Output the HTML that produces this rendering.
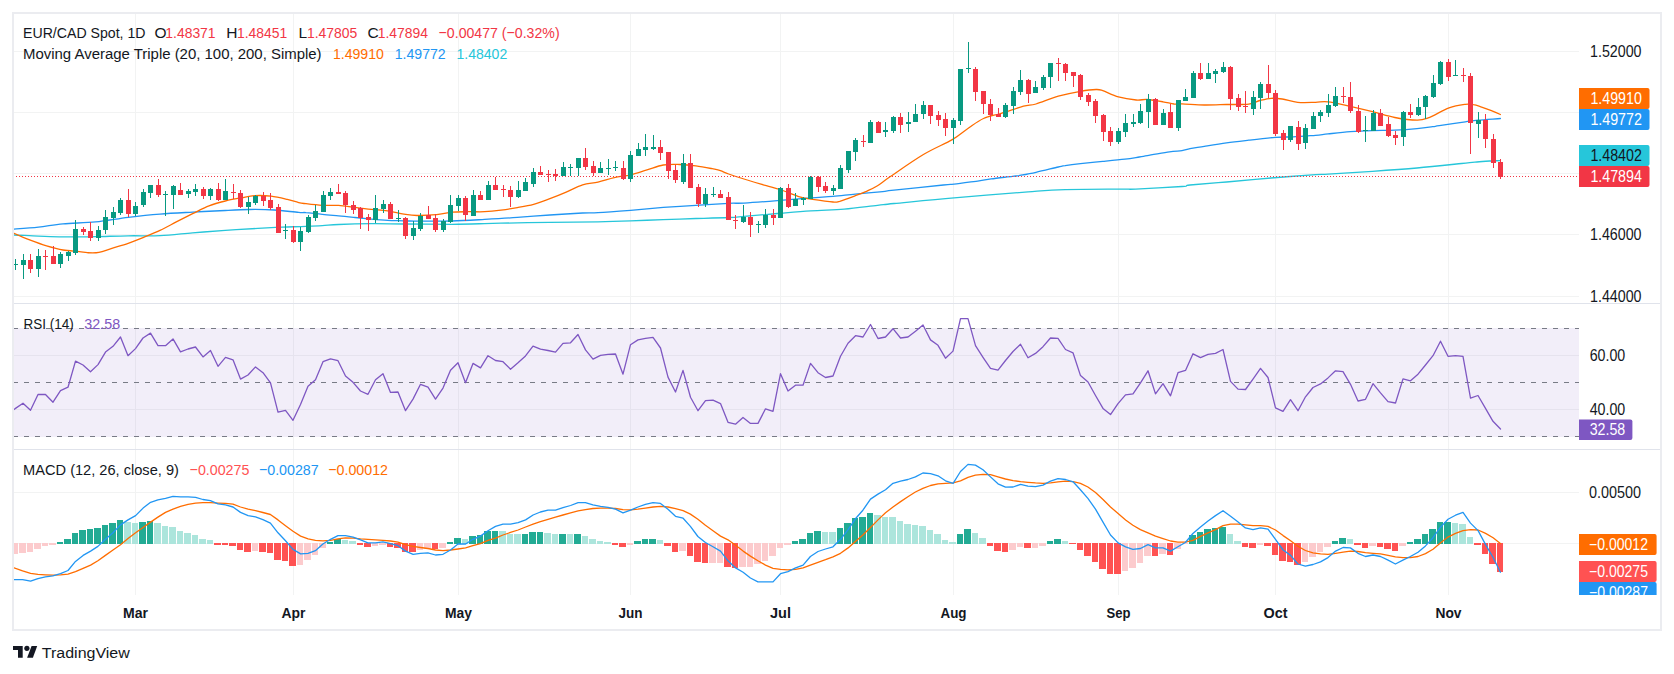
<!DOCTYPE html><html><head><meta charset="utf-8"><style>html,body{margin:0;padding:0;background:#fff;overflow:hidden}svg{display:block}text{font-family:'Liberation Sans', sans-serif}</style></head><body>
<svg width="1674" height="674" viewBox="0 0 1674 674">
<rect width="1674" height="674" fill="#fff"/>
<rect x="12" y="12" width="1650" height="619" fill="#EBECF0"/>
<rect x="14" y="14" width="1646" height="615" fill="#fff"/>
<rect x="14" y="303" width="1646" height="1" fill="#E0E3EB"/>
<rect x="14" y="449" width="1646" height="1" fill="#E0E3EB"/>
<rect x="14" y="51" width="1565" height="1" fill="#F2F3F3"/>
<rect x="14" y="112" width="1565" height="1" fill="#F2F3F3"/>
<rect x="14" y="173" width="1565" height="1" fill="#F2F3F3"/>
<rect x="14" y="234" width="1565" height="1" fill="#F2F3F3"/>
<rect x="14" y="296" width="1565" height="1" fill="#F2F3F3"/>
<rect x="14" y="355" width="1565" height="1" fill="#F2F3F3"/>
<rect x="14" y="409" width="1565" height="1" fill="#F2F3F3"/>
<rect x="14" y="492" width="1565" height="1" fill="#F2F3F3"/>
<rect x="14" y="543" width="1565" height="1" fill="#F2F3F3"/>
<rect x="135" y="14" width="1" height="289" fill="#F2F3F3"/>
<rect x="135" y="304" width="1" height="145" fill="#F2F3F3"/>
<rect x="135" y="450" width="1" height="145" fill="#F2F3F3"/>
<rect x="293" y="14" width="1" height="289" fill="#F2F3F3"/>
<rect x="293" y="304" width="1" height="145" fill="#F2F3F3"/>
<rect x="293" y="450" width="1" height="145" fill="#F2F3F3"/>
<rect x="458" y="14" width="1" height="289" fill="#F2F3F3"/>
<rect x="458" y="304" width="1" height="145" fill="#F2F3F3"/>
<rect x="458" y="450" width="1" height="145" fill="#F2F3F3"/>
<rect x="630" y="14" width="1" height="289" fill="#F2F3F3"/>
<rect x="630" y="304" width="1" height="145" fill="#F2F3F3"/>
<rect x="630" y="450" width="1" height="145" fill="#F2F3F3"/>
<rect x="780" y="14" width="1" height="289" fill="#F2F3F3"/>
<rect x="780" y="304" width="1" height="145" fill="#F2F3F3"/>
<rect x="780" y="450" width="1" height="145" fill="#F2F3F3"/>
<rect x="953" y="14" width="1" height="289" fill="#F2F3F3"/>
<rect x="953" y="304" width="1" height="145" fill="#F2F3F3"/>
<rect x="953" y="450" width="1" height="145" fill="#F2F3F3"/>
<rect x="1118" y="14" width="1" height="289" fill="#F2F3F3"/>
<rect x="1118" y="304" width="1" height="145" fill="#F2F3F3"/>
<rect x="1118" y="450" width="1" height="145" fill="#F2F3F3"/>
<rect x="1275" y="14" width="1" height="289" fill="#F2F3F3"/>
<rect x="1275" y="304" width="1" height="145" fill="#F2F3F3"/>
<rect x="1275" y="450" width="1" height="145" fill="#F2F3F3"/>
<rect x="1448" y="14" width="1" height="289" fill="#F2F3F3"/>
<rect x="1448" y="304" width="1" height="145" fill="#F2F3F3"/>
<rect x="1448" y="450" width="1" height="145" fill="#F2F3F3"/>
<svg x="14" y="14" width="1565" height="289" viewBox="14 14 1565 289" overflow="hidden">
<path d="M14.0,235.0 C18.1,235.1 30.3,235.8 38.5,236.1 C46.6,236.4 53.4,236.8 63.0,236.9 C72.5,237.0 84.7,236.8 95.6,236.6 C106.5,236.4 117.5,235.9 128.2,235.8 C139.0,235.6 149.3,236.1 160.0,235.6 C170.7,235.1 181.8,233.7 192.6,232.8 C203.5,232.0 214.4,231.1 225.3,230.4 C236.2,229.7 248.4,229.0 257.9,228.4 C267.4,227.9 274.4,227.5 282.4,227.1 C290.4,226.8 299.3,226.7 306.0,226.4 C312.7,226.2 316.9,225.9 322.3,225.6 C327.8,225.3 330.5,224.8 338.6,224.5 C346.8,224.1 360.4,223.7 371.3,223.7 C382.2,223.6 390.5,223.9 403.9,224.0 C417.4,224.1 438.5,224.3 452.0,224.3 C465.5,224.2 473.8,223.9 484.6,223.6 C495.5,223.4 506.4,223.0 517.3,222.8 C528.2,222.6 536.5,222.5 549.9,222.3 C563.4,222.1 584.5,222.0 598.0,221.8 C611.5,221.5 619.8,221.2 630.6,220.8 C641.5,220.5 652.4,220.0 663.3,219.7 C674.2,219.3 685.0,218.9 695.9,218.5 C706.8,218.2 720.6,217.9 728.6,217.5 C736.6,217.2 735.9,217.1 744.0,216.4 C752.1,215.7 766.3,214.5 777.4,213.5 C788.5,212.6 799.6,211.6 810.8,210.9 C821.9,210.1 833.0,210.0 844.2,209.1 C855.3,208.1 869.2,206.2 877.5,205.3 C885.9,204.4 881.3,204.8 894.0,203.5 C906.8,202.3 931.7,199.7 954.1,197.8 C976.4,195.8 1009.6,193.2 1028.1,191.9 C1046.7,190.5 1049.8,190.1 1065.2,189.6 C1080.6,189.2 1109.0,189.2 1120.7,189.1 C1132.5,189.0 1125.3,189.5 1135.6,189.1 C1145.8,188.6 1172.9,187.1 1182.0,186.5 C1191.1,185.8 1182.6,185.7 1190.0,185.0 C1197.4,184.3 1213.0,183.2 1226.5,182.0 C1240.0,180.8 1256.2,179.2 1271.0,178.0 C1285.9,176.8 1306.0,175.3 1315.5,174.7 C1325.0,174.0 1318.5,174.8 1328.0,174.2 C1337.5,173.7 1357.7,172.4 1372.5,171.3 C1387.4,170.3 1402.2,169.3 1417.0,168.0 C1431.9,166.7 1451.9,164.5 1461.5,163.5 C1471.2,162.5 1470.2,162.5 1474.9,162.1 C1479.6,161.6 1485.5,161.3 1489.7,161.0 C1494.0,160.8 1498.6,160.7 1500.4,160.6" fill="none" stroke="#26C6DA" stroke-width="1.3" stroke-linejoin="round" stroke-linecap="round"/>
<path d="M14.0,229.1 C18.1,228.8 30.3,228.0 38.5,227.1 C46.6,226.3 53.4,224.7 63.0,223.9 C72.5,223.0 84.7,223.0 95.6,221.9 C106.5,220.8 117.5,218.6 128.2,217.3 C139.0,216.0 149.3,214.9 160.0,214.1 C170.7,213.2 181.8,212.7 192.6,212.1 C203.5,211.5 215.8,210.9 225.3,210.5 C234.8,210.0 241.6,209.6 249.8,209.5 C257.9,209.4 266.1,209.5 274.2,210.0 C282.4,210.5 293.4,212.0 298.7,212.4 C304.0,212.9 302.1,212.2 306.0,212.6 C309.9,212.9 316.9,213.8 322.3,214.3 C327.8,214.9 333.2,215.3 338.6,215.8 C344.1,216.3 349.5,216.9 355.0,217.5 C360.4,218.0 365.8,218.6 371.3,219.1 C376.7,219.6 382.2,220.1 387.6,220.4 C393.0,220.7 398.5,220.7 403.9,220.9 C409.4,221.0 412.2,221.2 420.2,221.2 C428.3,221.2 441.3,221.3 452.0,221.0 C462.7,220.7 473.8,220.0 484.6,219.4 C495.5,218.8 506.4,218.2 517.3,217.4 C528.2,216.7 539.0,215.7 549.9,215.0 C560.8,214.2 574.6,213.4 582.6,213.0 C590.6,212.6 590.0,213.1 598.0,212.6 C606.0,212.2 619.8,211.2 630.6,210.4 C641.5,209.5 652.4,208.3 663.3,207.4 C674.2,206.6 685.0,206.0 695.9,205.3 C706.8,204.6 720.6,203.7 728.6,203.3 C736.6,203.0 735.9,203.5 744.0,203.1 C752.1,202.6 766.3,201.5 777.4,200.6 C788.5,199.8 801.5,198.7 810.8,197.9 C820.0,197.2 825.6,197.0 833.0,196.4 C840.4,195.8 847.5,194.9 855.3,194.2 C863.1,193.4 873.5,192.5 880.0,191.9 C886.5,191.2 883.4,191.3 894.0,190.2 C904.6,189.0 933.4,186.0 943.4,185.0 C953.4,184.0 948.1,184.8 954.1,184.1 C960.0,183.4 972.9,181.6 979.0,180.8 C985.2,179.9 985.5,179.6 991.1,178.9 C996.7,178.1 1007.8,176.9 1012.4,176.3 C1017.0,175.8 1015.0,176.2 1018.9,175.6 C1022.8,174.9 1029.4,173.8 1036.0,172.3 C1042.6,170.9 1053.4,168.1 1058.3,167.0 C1063.1,165.9 1061.5,166.1 1065.2,165.6 C1068.9,165.0 1074.2,164.3 1080.5,163.6 C1086.8,163.0 1095.4,162.2 1102.8,161.4 C1110.2,160.7 1118.9,159.9 1125.0,159.2 C1131.1,158.5 1135.5,157.6 1139.3,157.0 C1143.0,156.4 1142.2,156.5 1147.3,155.6 C1152.3,154.8 1163.8,152.7 1169.5,151.8 C1175.3,151.0 1178.6,151.1 1182.0,150.6 C1185.4,150.1 1186.3,149.4 1190.0,148.7 C1193.7,148.0 1198.2,147.4 1204.3,146.4 C1210.3,145.4 1219.1,143.9 1226.5,142.8 C1233.9,141.8 1240.6,141.1 1248.8,140.2 C1256.9,139.2 1268.1,137.8 1275.5,137.3 C1282.9,136.7 1286.6,137.2 1293.3,136.8 C1300.0,136.5 1309.8,135.7 1315.5,135.3 C1321.3,134.8 1322.2,134.5 1328.0,133.9 C1333.8,133.3 1342.8,132.3 1350.3,131.7 C1357.7,131.1 1365.1,130.8 1372.5,130.6 C1379.9,130.3 1387.4,130.5 1394.8,130.1 C1402.2,129.8 1410.7,129.2 1417.0,128.6 C1423.3,128.0 1428.9,127.2 1432.6,126.7 C1436.4,126.2 1433.8,126.5 1439.3,125.7 C1444.7,124.9 1458.8,122.7 1465.3,121.8 C1471.7,120.9 1472.2,120.7 1478.0,120.1 C1483.9,119.6 1496.6,118.8 1500.4,118.5" fill="none" stroke="#2196F3" stroke-width="1.3" stroke-linejoin="round" stroke-linecap="round"/>
<path d="M14.0,233.3 C16.7,234.5 24.9,238.1 30.3,240.2 C35.8,242.3 41.2,244.3 46.6,245.9 C52.1,247.5 57.5,249.0 63.0,250.0 C68.4,250.9 75.2,251.1 79.3,251.6 C83.4,252.1 84.2,252.6 87.4,252.7 C90.7,252.9 94.8,253.2 98.9,252.4 C103.0,251.7 107.0,249.8 111.9,248.3 C116.8,246.8 122.8,245.3 128.2,243.4 C133.7,241.5 139.3,239.1 144.6,236.9 C149.9,234.7 154.7,232.9 160.0,230.4 C165.3,227.9 170.9,224.7 176.3,221.9 C181.8,219.1 187.2,216.4 192.6,213.7 C198.1,211.1 203.5,208.0 209.0,205.9 C214.4,203.8 219.8,202.4 225.3,201.0 C230.7,199.7 236.7,198.6 241.6,197.7 C246.5,196.8 249.8,195.9 254.7,195.6 C259.6,195.4 265.5,195.5 271.0,196.1 C276.4,196.7 282.7,198.3 287.3,199.4 C291.9,200.5 295.6,201.9 298.7,202.6 C301.8,203.4 302.1,203.3 306.0,203.7 C309.9,204.2 316.9,205.1 322.3,205.4 C327.8,205.6 333.2,205.0 338.6,205.4 C344.1,205.7 349.5,206.7 355.0,207.3 C360.4,208.0 365.8,208.7 371.3,209.3 C376.7,209.9 382.2,210.1 387.6,210.9 C393.0,211.7 399.0,213.4 403.9,214.2 C408.8,214.9 411.5,215.4 417.0,215.5 C422.4,215.6 430.7,215.2 436.6,214.7 C442.4,214.1 446.7,212.7 452.0,212.2 C457.3,211.7 462.9,211.8 468.3,211.7 C473.8,211.6 479.2,212.0 484.6,211.7 C490.1,211.4 495.5,210.8 501.0,210.1 C506.4,209.4 511.8,208.6 517.3,207.6 C522.7,206.7 528.2,205.9 533.6,204.4 C539.0,202.9 544.5,200.7 549.9,198.7 C555.4,196.6 560.8,194.4 566.2,192.1 C571.7,189.8 577.3,186.4 582.6,184.8 C587.9,183.1 592.7,183.3 598.0,182.1 C603.3,180.9 608.9,178.8 614.3,177.6 C619.8,176.3 625.2,176.1 630.6,174.8 C636.1,173.5 641.5,171.5 647.0,169.9 C652.4,168.3 657.8,165.9 663.3,165.0 C668.7,164.1 674.2,164.4 679.6,164.5 C685.0,164.6 690.5,165.1 695.9,165.8 C701.4,166.5 708.2,167.9 712.2,168.7 C716.3,169.6 717.7,169.8 720.4,170.7 C723.1,171.6 724.6,172.6 728.6,174.0 C732.5,175.4 737.7,177.1 744.0,179.0 C750.3,181.0 760.3,184.0 766.3,185.7 C772.2,187.4 774.0,187.6 779.6,189.5 C785.2,191.3 794.4,195.2 799.6,196.8 C804.8,198.4 805.2,198.2 810.8,199.1 C816.3,199.9 828.2,201.6 833.0,202.0 C837.8,202.3 836.0,202.3 839.7,201.3 C843.4,200.2 850.8,197.4 855.3,195.7 C859.7,194.1 862.7,192.9 866.4,191.3 C870.1,189.6 873.6,188.1 877.5,185.7 C881.5,183.3 882.4,182.0 890.0,176.8 C897.6,171.6 913.0,160.7 923.4,154.5 C933.8,148.3 944.9,143.9 952.3,139.6 C959.7,135.3 962.7,132.0 967.9,128.5 C973.1,125.0 977.9,121.0 983.5,118.5 C989.0,115.9 994.6,115.4 1001.3,113.3 C1008.0,111.3 1017.8,107.8 1023.5,106.2 C1029.3,104.7 1030.2,105.7 1036.0,104.0 C1041.8,102.3 1050.8,98.3 1058.3,96.2 C1065.7,94.1 1074.2,92.4 1080.5,91.3 C1086.8,90.2 1092.4,89.6 1096.1,89.5 C1099.8,89.4 1099.1,89.4 1102.8,90.6 C1106.5,91.9 1112.8,95.3 1118.4,96.9 C1123.9,98.4 1131.3,99.5 1136.2,100.0 C1141.0,100.4 1142.8,99.2 1147.3,99.5 C1151.7,99.8 1158.4,101.0 1162.9,101.8 C1167.3,102.5 1170.8,103.6 1174.0,104.0 C1177.2,104.3 1177.0,103.7 1182.0,103.9 C1187.0,104.0 1196.8,104.9 1204.3,105.0 C1211.7,105.1 1219.1,104.7 1226.5,104.5 C1233.9,104.4 1243.2,104.8 1248.8,104.1 C1254.3,103.4 1256.2,101.5 1259.9,100.5 C1263.6,99.6 1267.3,98.6 1271.0,98.3 C1274.7,98.1 1277.7,98.3 1282.2,99.0 C1286.6,99.6 1292.2,101.8 1297.7,102.3 C1303.3,102.9 1310.5,102.4 1315.5,102.3 C1320.6,102.2 1322.2,101.2 1328.0,101.9 C1333.8,102.5 1342.8,104.7 1350.3,106.3 C1357.7,108.0 1365.1,109.8 1372.5,111.7 C1379.9,113.5 1387.4,116.0 1394.8,117.5 C1402.2,118.9 1411.5,120.1 1417.0,120.1 C1422.6,120.2 1422.8,119.9 1428.2,117.9 C1433.5,115.9 1442.8,110.2 1449.0,107.9 C1455.2,105.7 1461.2,104.9 1465.3,104.3 C1469.4,103.8 1470.7,104.2 1473.4,104.7 C1476.2,105.1 1478.6,106.1 1481.6,107.1 C1484.6,108.1 1488.3,109.5 1491.4,110.7 C1494.5,111.9 1498.9,113.8 1500.4,114.5" fill="none" stroke="#FF6D00" stroke-width="1.3" stroke-linejoin="round" stroke-linecap="round"/>
</svg>
<svg x="14" y="14" width="1565" height="289" viewBox="14 14 1565 289" overflow="hidden"><g shape-rendering="crispEdges">
<line x1="14" y1="176.5" x2="1579" y2="176.5" stroke="#F23645" stroke-width="1" stroke-dasharray="1 2" stroke-dashoffset="-2"/>
<rect x="15" y="259" width="1" height="11" fill="#089981"/>
<rect x="13" y="264" width="5" height="1" fill="#089981"/>
<rect x="23" y="254" width="1" height="25" fill="#089981"/>
<rect x="21" y="260" width="5" height="5" fill="#089981"/>
<rect x="30" y="254" width="1" height="19" fill="#F23645"/>
<rect x="28" y="260" width="5" height="9" fill="#F23645"/>
<rect x="38" y="249" width="1" height="28" fill="#089981"/>
<rect x="36" y="256" width="5" height="13" fill="#089981"/>
<rect x="45" y="250" width="1" height="20" fill="#F23645"/>
<rect x="43" y="256" width="5" height="1" fill="#F23645"/>
<rect x="53" y="246" width="1" height="18" fill="#F23645"/>
<rect x="51" y="256" width="5" height="8" fill="#F23645"/>
<rect x="60" y="252" width="1" height="16" fill="#089981"/>
<rect x="58" y="254" width="5" height="10" fill="#089981"/>
<rect x="68" y="251" width="1" height="10" fill="#089981"/>
<rect x="66" y="252" width="5" height="4" fill="#089981"/>
<rect x="75" y="220" width="1" height="35" fill="#089981"/>
<rect x="73" y="229" width="5" height="24" fill="#089981"/>
<rect x="83" y="227" width="1" height="8" fill="#F23645"/>
<rect x="81" y="229" width="5" height="3" fill="#F23645"/>
<rect x="90" y="222" width="1" height="19" fill="#F23645"/>
<rect x="88" y="231" width="5" height="7" fill="#F23645"/>
<rect x="98" y="226" width="1" height="15" fill="#089981"/>
<rect x="96" y="230" width="5" height="8" fill="#089981"/>
<rect x="105" y="210" width="1" height="24" fill="#089981"/>
<rect x="103" y="217" width="5" height="13" fill="#089981"/>
<rect x="113" y="207" width="1" height="18" fill="#089981"/>
<rect x="111" y="212" width="5" height="6" fill="#089981"/>
<rect x="120" y="198" width="1" height="17" fill="#089981"/>
<rect x="118" y="200" width="5" height="13" fill="#089981"/>
<rect x="128" y="189" width="1" height="28" fill="#F23645"/>
<rect x="126" y="200" width="5" height="14" fill="#F23645"/>
<rect x="135" y="202" width="1" height="14" fill="#089981"/>
<rect x="133" y="206" width="5" height="8" fill="#089981"/>
<rect x="143" y="189" width="1" height="18" fill="#089981"/>
<rect x="141" y="192" width="5" height="13" fill="#089981"/>
<rect x="150" y="185" width="1" height="13" fill="#089981"/>
<rect x="148" y="185" width="5" height="8" fill="#089981"/>
<rect x="158" y="179" width="1" height="18" fill="#F23645"/>
<rect x="156" y="185" width="5" height="10" fill="#F23645"/>
<rect x="165" y="191" width="1" height="25" fill="#089981"/>
<rect x="163" y="194" width="5" height="1" fill="#089981"/>
<rect x="173" y="185" width="1" height="24" fill="#089981"/>
<rect x="171" y="186" width="5" height="9" fill="#089981"/>
<rect x="180" y="183" width="1" height="12" fill="#F23645"/>
<rect x="178" y="190" width="5" height="5" fill="#F23645"/>
<rect x="188" y="189" width="1" height="9" fill="#089981"/>
<rect x="186" y="191" width="5" height="3" fill="#089981"/>
<rect x="195" y="184" width="1" height="12" fill="#089981"/>
<rect x="193" y="189" width="5" height="3" fill="#089981"/>
<rect x="203" y="187" width="1" height="12" fill="#F23645"/>
<rect x="201" y="189" width="5" height="7" fill="#F23645"/>
<rect x="210" y="188" width="1" height="12" fill="#089981"/>
<rect x="208" y="189" width="5" height="7" fill="#089981"/>
<rect x="218" y="183" width="1" height="18" fill="#F23645"/>
<rect x="216" y="189" width="5" height="11" fill="#F23645"/>
<rect x="225" y="179" width="1" height="21" fill="#089981"/>
<rect x="223" y="191" width="5" height="9" fill="#089981"/>
<rect x="233" y="184" width="1" height="15" fill="#F23645"/>
<rect x="231" y="192" width="5" height="1" fill="#F23645"/>
<rect x="240" y="190" width="1" height="18" fill="#F23645"/>
<rect x="238" y="193" width="5" height="14" fill="#F23645"/>
<rect x="248" y="197" width="1" height="17" fill="#089981"/>
<rect x="246" y="202" width="5" height="5" fill="#089981"/>
<rect x="255" y="195" width="1" height="10" fill="#089981"/>
<rect x="253" y="196" width="5" height="7" fill="#089981"/>
<rect x="263" y="192" width="1" height="14" fill="#F23645"/>
<rect x="261" y="196" width="5" height="5" fill="#F23645"/>
<rect x="270" y="193" width="1" height="17" fill="#F23645"/>
<rect x="268" y="200" width="5" height="8" fill="#F23645"/>
<rect x="278" y="204" width="1" height="29" fill="#F23645"/>
<rect x="276" y="207" width="5" height="26" fill="#F23645"/>
<rect x="285" y="224" width="1" height="15" fill="#089981"/>
<rect x="283" y="230" width="5" height="1" fill="#089981"/>
<rect x="293" y="226" width="1" height="17" fill="#F23645"/>
<rect x="291" y="230" width="5" height="12" fill="#F23645"/>
<rect x="300" y="227" width="1" height="24" fill="#089981"/>
<rect x="298" y="231" width="5" height="11" fill="#089981"/>
<rect x="308" y="215" width="1" height="18" fill="#089981"/>
<rect x="306" y="217" width="5" height="15" fill="#089981"/>
<rect x="315" y="205" width="1" height="16" fill="#089981"/>
<rect x="313" y="211" width="5" height="7" fill="#089981"/>
<rect x="323" y="191" width="1" height="21" fill="#089981"/>
<rect x="321" y="195" width="5" height="17" fill="#089981"/>
<rect x="330" y="188" width="1" height="12" fill="#089981"/>
<rect x="328" y="192" width="5" height="4" fill="#089981"/>
<rect x="338" y="184" width="1" height="10" fill="#F23645"/>
<rect x="336" y="192" width="5" height="2" fill="#F23645"/>
<rect x="345" y="191" width="1" height="22" fill="#F23645"/>
<rect x="343" y="193" width="5" height="12" fill="#F23645"/>
<rect x="353" y="201" width="1" height="13" fill="#F23645"/>
<rect x="351" y="205" width="5" height="5" fill="#F23645"/>
<rect x="360" y="207" width="1" height="22" fill="#F23645"/>
<rect x="358" y="208" width="5" height="10" fill="#F23645"/>
<rect x="368" y="214" width="1" height="17" fill="#F23645"/>
<rect x="366" y="217" width="5" height="3" fill="#F23645"/>
<rect x="375" y="195" width="1" height="28" fill="#089981"/>
<rect x="373" y="208" width="5" height="12" fill="#089981"/>
<rect x="383" y="200" width="1" height="13" fill="#089981"/>
<rect x="381" y="204" width="5" height="5" fill="#089981"/>
<rect x="390" y="202" width="1" height="17" fill="#F23645"/>
<rect x="388" y="204" width="5" height="15" fill="#F23645"/>
<rect x="398" y="210" width="1" height="12" fill="#089981"/>
<rect x="396" y="218" width="5" height="1" fill="#089981"/>
<rect x="405" y="217" width="1" height="22" fill="#F23645"/>
<rect x="403" y="218" width="5" height="18" fill="#F23645"/>
<rect x="413" y="221" width="1" height="19" fill="#089981"/>
<rect x="411" y="228" width="5" height="8" fill="#089981"/>
<rect x="420" y="213" width="1" height="18" fill="#089981"/>
<rect x="418" y="216" width="5" height="13" fill="#089981"/>
<rect x="428" y="206" width="1" height="13" fill="#F23645"/>
<rect x="426" y="215" width="5" height="4" fill="#F23645"/>
<rect x="435" y="214" width="1" height="18" fill="#F23645"/>
<rect x="433" y="218" width="5" height="12" fill="#F23645"/>
<rect x="443" y="219" width="1" height="13" fill="#089981"/>
<rect x="441" y="221" width="5" height="9" fill="#089981"/>
<rect x="450" y="195" width="1" height="28" fill="#089981"/>
<rect x="448" y="205" width="5" height="17" fill="#089981"/>
<rect x="458" y="195" width="1" height="16" fill="#089981"/>
<rect x="456" y="198" width="5" height="8" fill="#089981"/>
<rect x="465" y="196" width="1" height="25" fill="#F23645"/>
<rect x="463" y="198" width="5" height="17" fill="#F23645"/>
<rect x="473" y="190" width="1" height="26" fill="#089981"/>
<rect x="471" y="195" width="5" height="21" fill="#089981"/>
<rect x="480" y="191" width="1" height="9" fill="#F23645"/>
<rect x="478" y="195" width="5" height="5" fill="#F23645"/>
<rect x="488" y="181" width="1" height="19" fill="#089981"/>
<rect x="486" y="185" width="5" height="15" fill="#089981"/>
<rect x="495" y="177" width="1" height="13" fill="#F23645"/>
<rect x="493" y="185" width="5" height="5" fill="#F23645"/>
<rect x="503" y="185" width="1" height="12" fill="#F23645"/>
<rect x="501" y="189" width="5" height="1" fill="#F23645"/>
<rect x="510" y="186" width="1" height="21" fill="#F23645"/>
<rect x="508" y="190" width="5" height="7" fill="#F23645"/>
<rect x="518" y="181" width="1" height="17" fill="#089981"/>
<rect x="516" y="190" width="5" height="7" fill="#089981"/>
<rect x="525" y="178" width="1" height="13" fill="#089981"/>
<rect x="523" y="182" width="5" height="9" fill="#089981"/>
<rect x="533" y="168" width="1" height="19" fill="#089981"/>
<rect x="531" y="172" width="5" height="12" fill="#089981"/>
<rect x="540" y="166" width="1" height="9" fill="#F23645"/>
<rect x="538" y="172" width="5" height="3" fill="#F23645"/>
<rect x="548" y="170" width="1" height="12" fill="#F23645"/>
<rect x="546" y="174" width="5" height="1" fill="#F23645"/>
<rect x="555" y="169" width="1" height="12" fill="#F23645"/>
<rect x="553" y="174" width="5" height="2" fill="#F23645"/>
<rect x="563" y="162" width="1" height="14" fill="#089981"/>
<rect x="561" y="167" width="5" height="9" fill="#089981"/>
<rect x="570" y="164" width="1" height="12" fill="#089981"/>
<rect x="568" y="167" width="5" height="1" fill="#089981"/>
<rect x="578" y="158" width="1" height="18" fill="#089981"/>
<rect x="576" y="158" width="5" height="10" fill="#089981"/>
<rect x="585" y="148" width="1" height="22" fill="#F23645"/>
<rect x="583" y="158" width="5" height="9" fill="#F23645"/>
<rect x="593" y="161" width="1" height="15" fill="#F23645"/>
<rect x="591" y="166" width="5" height="7" fill="#F23645"/>
<rect x="600" y="162" width="1" height="11" fill="#089981"/>
<rect x="598" y="168" width="5" height="5" fill="#089981"/>
<rect x="608" y="159" width="1" height="16" fill="#089981"/>
<rect x="606" y="168" width="5" height="1" fill="#089981"/>
<rect x="615" y="161" width="1" height="10" fill="#089981"/>
<rect x="613" y="167" width="5" height="1" fill="#089981"/>
<rect x="623" y="161" width="1" height="19" fill="#F23645"/>
<rect x="621" y="168" width="5" height="11" fill="#F23645"/>
<rect x="630" y="151" width="1" height="31" fill="#089981"/>
<rect x="628" y="155" width="5" height="24" fill="#089981"/>
<rect x="638" y="143" width="1" height="13" fill="#089981"/>
<rect x="636" y="149" width="5" height="7" fill="#089981"/>
<rect x="645" y="134" width="1" height="22" fill="#089981"/>
<rect x="643" y="147" width="5" height="3" fill="#089981"/>
<rect x="653" y="135" width="1" height="15" fill="#089981"/>
<rect x="651" y="147" width="5" height="2" fill="#089981"/>
<rect x="660" y="140" width="1" height="20" fill="#F23645"/>
<rect x="658" y="147" width="5" height="6" fill="#F23645"/>
<rect x="668" y="152" width="1" height="27" fill="#F23645"/>
<rect x="666" y="152" width="5" height="19" fill="#F23645"/>
<rect x="675" y="165" width="1" height="18" fill="#F23645"/>
<rect x="673" y="170" width="5" height="10" fill="#F23645"/>
<rect x="683" y="154" width="1" height="30" fill="#089981"/>
<rect x="681" y="163" width="5" height="19" fill="#089981"/>
<rect x="690" y="154" width="1" height="34" fill="#F23645"/>
<rect x="688" y="163" width="5" height="25" fill="#F23645"/>
<rect x="698" y="184" width="1" height="23" fill="#F23645"/>
<rect x="696" y="187" width="5" height="17" fill="#F23645"/>
<rect x="705" y="188" width="1" height="19" fill="#089981"/>
<rect x="703" y="194" width="5" height="10" fill="#089981"/>
<rect x="713" y="187" width="1" height="10" fill="#089981"/>
<rect x="711" y="194" width="5" height="1" fill="#089981"/>
<rect x="720" y="190" width="1" height="8" fill="#F23645"/>
<rect x="718" y="194" width="5" height="4" fill="#F23645"/>
<rect x="728" y="192" width="1" height="28" fill="#F23645"/>
<rect x="726" y="197" width="5" height="23" fill="#F23645"/>
<rect x="735" y="215" width="1" height="14" fill="#F23645"/>
<rect x="733" y="220" width="5" height="1" fill="#F23645"/>
<rect x="743" y="205" width="1" height="18" fill="#089981"/>
<rect x="741" y="217" width="5" height="5" fill="#089981"/>
<rect x="750" y="212" width="1" height="25" fill="#F23645"/>
<rect x="748" y="217" width="5" height="8" fill="#F23645"/>
<rect x="758" y="221" width="1" height="12" fill="#089981"/>
<rect x="756" y="224" width="5" height="1" fill="#089981"/>
<rect x="765" y="209" width="1" height="19" fill="#089981"/>
<rect x="763" y="215" width="5" height="10" fill="#089981"/>
<rect x="773" y="209" width="1" height="16" fill="#F23645"/>
<rect x="771" y="215" width="5" height="3" fill="#F23645"/>
<rect x="780" y="187" width="1" height="31" fill="#089981"/>
<rect x="778" y="188" width="5" height="30" fill="#089981"/>
<rect x="788" y="184" width="1" height="24" fill="#F23645"/>
<rect x="786" y="188" width="5" height="19" fill="#F23645"/>
<rect x="795" y="193" width="1" height="13" fill="#089981"/>
<rect x="793" y="199" width="5" height="7" fill="#089981"/>
<rect x="803" y="197" width="1" height="8" fill="#089981"/>
<rect x="801" y="198" width="5" height="2" fill="#089981"/>
<rect x="810" y="176" width="1" height="23" fill="#089981"/>
<rect x="808" y="177" width="5" height="22" fill="#089981"/>
<rect x="818" y="176" width="1" height="16" fill="#F23645"/>
<rect x="816" y="177" width="5" height="10" fill="#F23645"/>
<rect x="825" y="182" width="1" height="11" fill="#F23645"/>
<rect x="823" y="186" width="5" height="5" fill="#F23645"/>
<rect x="833" y="185" width="1" height="10" fill="#089981"/>
<rect x="831" y="188" width="5" height="3" fill="#089981"/>
<rect x="840" y="165" width="1" height="24" fill="#089981"/>
<rect x="838" y="168" width="5" height="21" fill="#089981"/>
<rect x="848" y="151" width="1" height="22" fill="#089981"/>
<rect x="846" y="151" width="5" height="19" fill="#089981"/>
<rect x="855" y="138" width="1" height="23" fill="#089981"/>
<rect x="853" y="140" width="5" height="12" fill="#089981"/>
<rect x="863" y="135" width="1" height="12" fill="#F23645"/>
<rect x="861" y="141" width="5" height="1" fill="#F23645"/>
<rect x="870" y="120" width="1" height="23" fill="#089981"/>
<rect x="868" y="122" width="5" height="21" fill="#089981"/>
<rect x="878" y="121" width="1" height="12" fill="#F23645"/>
<rect x="876" y="122" width="5" height="11" fill="#F23645"/>
<rect x="885" y="122" width="1" height="15" fill="#089981"/>
<rect x="883" y="130" width="5" height="2" fill="#089981"/>
<rect x="893" y="116" width="1" height="17" fill="#089981"/>
<rect x="891" y="117" width="5" height="14" fill="#089981"/>
<rect x="900" y="113" width="1" height="20" fill="#F23645"/>
<rect x="898" y="117" width="5" height="8" fill="#F23645"/>
<rect x="908" y="112" width="1" height="20" fill="#089981"/>
<rect x="906" y="122" width="5" height="2" fill="#089981"/>
<rect x="915" y="104" width="1" height="18" fill="#089981"/>
<rect x="913" y="114" width="5" height="8" fill="#089981"/>
<rect x="923" y="101" width="1" height="18" fill="#089981"/>
<rect x="921" y="105" width="5" height="9" fill="#089981"/>
<rect x="930" y="105" width="1" height="19" fill="#F23645"/>
<rect x="928" y="105" width="5" height="11" fill="#F23645"/>
<rect x="938" y="111" width="1" height="15" fill="#F23645"/>
<rect x="936" y="115" width="5" height="5" fill="#F23645"/>
<rect x="945" y="113" width="1" height="23" fill="#F23645"/>
<rect x="943" y="119" width="5" height="9" fill="#F23645"/>
<rect x="953" y="118" width="1" height="26" fill="#089981"/>
<rect x="951" y="120" width="5" height="8" fill="#089981"/>
<rect x="960" y="69" width="1" height="56" fill="#089981"/>
<rect x="958" y="69" width="5" height="52" fill="#089981"/>
<rect x="968" y="42" width="1" height="31" fill="#089981"/>
<rect x="966" y="68" width="5" height="1" fill="#089981"/>
<rect x="975" y="67" width="1" height="34" fill="#F23645"/>
<rect x="973" y="69" width="5" height="23" fill="#F23645"/>
<rect x="983" y="91" width="1" height="23" fill="#F23645"/>
<rect x="981" y="91" width="5" height="13" fill="#F23645"/>
<rect x="990" y="99" width="1" height="22" fill="#F23645"/>
<rect x="988" y="104" width="5" height="11" fill="#F23645"/>
<rect x="998" y="108" width="1" height="9" fill="#F23645"/>
<rect x="996" y="114" width="5" height="3" fill="#F23645"/>
<rect x="1005" y="103" width="1" height="15" fill="#089981"/>
<rect x="1003" y="105" width="5" height="12" fill="#089981"/>
<rect x="1013" y="87" width="1" height="27" fill="#089981"/>
<rect x="1011" y="91" width="5" height="15" fill="#089981"/>
<rect x="1020" y="70" width="1" height="25" fill="#089981"/>
<rect x="1018" y="80" width="5" height="12" fill="#089981"/>
<rect x="1028" y="79" width="1" height="24" fill="#F23645"/>
<rect x="1026" y="80" width="5" height="14" fill="#F23645"/>
<rect x="1035" y="81" width="1" height="12" fill="#089981"/>
<rect x="1033" y="87" width="5" height="6" fill="#089981"/>
<rect x="1043" y="75" width="1" height="15" fill="#089981"/>
<rect x="1041" y="77" width="5" height="11" fill="#089981"/>
<rect x="1050" y="63" width="1" height="25" fill="#089981"/>
<rect x="1048" y="63" width="5" height="14" fill="#089981"/>
<rect x="1058" y="58" width="1" height="23" fill="#F23645"/>
<rect x="1056" y="63" width="5" height="1" fill="#F23645"/>
<rect x="1065" y="63" width="1" height="18" fill="#F23645"/>
<rect x="1063" y="64" width="5" height="9" fill="#F23645"/>
<rect x="1073" y="72" width="1" height="15" fill="#F23645"/>
<rect x="1071" y="72" width="5" height="4" fill="#F23645"/>
<rect x="1080" y="74" width="1" height="26" fill="#F23645"/>
<rect x="1078" y="75" width="5" height="22" fill="#F23645"/>
<rect x="1088" y="93" width="1" height="13" fill="#F23645"/>
<rect x="1086" y="95" width="5" height="7" fill="#F23645"/>
<rect x="1095" y="99" width="1" height="24" fill="#F23645"/>
<rect x="1093" y="101" width="5" height="15" fill="#F23645"/>
<rect x="1103" y="114" width="1" height="27" fill="#F23645"/>
<rect x="1101" y="115" width="5" height="17" fill="#F23645"/>
<rect x="1110" y="127" width="1" height="19" fill="#F23645"/>
<rect x="1108" y="131" width="5" height="11" fill="#F23645"/>
<rect x="1118" y="128" width="1" height="16" fill="#089981"/>
<rect x="1116" y="131" width="5" height="11" fill="#089981"/>
<rect x="1125" y="114" width="1" height="23" fill="#089981"/>
<rect x="1123" y="123" width="5" height="9" fill="#089981"/>
<rect x="1133" y="114" width="1" height="13" fill="#089981"/>
<rect x="1131" y="122" width="5" height="2" fill="#089981"/>
<rect x="1140" y="104" width="1" height="20" fill="#089981"/>
<rect x="1138" y="111" width="5" height="12" fill="#089981"/>
<rect x="1148" y="94" width="1" height="34" fill="#089981"/>
<rect x="1146" y="99" width="5" height="13" fill="#089981"/>
<rect x="1155" y="98" width="1" height="27" fill="#F23645"/>
<rect x="1153" y="99" width="5" height="26" fill="#F23645"/>
<rect x="1163" y="109" width="1" height="16" fill="#089981"/>
<rect x="1161" y="113" width="5" height="12" fill="#089981"/>
<rect x="1170" y="104" width="1" height="24" fill="#F23645"/>
<rect x="1168" y="112" width="5" height="16" fill="#F23645"/>
<rect x="1178" y="100" width="1" height="31" fill="#089981"/>
<rect x="1176" y="100" width="5" height="28" fill="#089981"/>
<rect x="1185" y="89" width="1" height="12" fill="#089981"/>
<rect x="1183" y="97" width="5" height="4" fill="#089981"/>
<rect x="1193" y="71" width="1" height="27" fill="#089981"/>
<rect x="1191" y="73" width="5" height="25" fill="#089981"/>
<rect x="1200" y="63" width="1" height="17" fill="#F23645"/>
<rect x="1198" y="73" width="5" height="6" fill="#F23645"/>
<rect x="1208" y="63" width="1" height="16" fill="#089981"/>
<rect x="1206" y="73" width="5" height="6" fill="#089981"/>
<rect x="1215" y="69" width="1" height="14" fill="#089981"/>
<rect x="1213" y="71" width="5" height="3" fill="#089981"/>
<rect x="1223" y="62" width="1" height="11" fill="#089981"/>
<rect x="1221" y="67" width="5" height="5" fill="#089981"/>
<rect x="1230" y="66" width="1" height="44" fill="#F23645"/>
<rect x="1228" y="67" width="5" height="32" fill="#F23645"/>
<rect x="1238" y="94" width="1" height="17" fill="#F23645"/>
<rect x="1236" y="98" width="5" height="9" fill="#F23645"/>
<rect x="1245" y="91" width="1" height="22" fill="#F23645"/>
<rect x="1243" y="106" width="5" height="1" fill="#F23645"/>
<rect x="1253" y="91" width="1" height="24" fill="#089981"/>
<rect x="1251" y="97" width="5" height="12" fill="#089981"/>
<rect x="1260" y="82" width="1" height="27" fill="#089981"/>
<rect x="1258" y="84" width="5" height="14" fill="#089981"/>
<rect x="1268" y="65" width="1" height="33" fill="#F23645"/>
<rect x="1266" y="84" width="5" height="9" fill="#F23645"/>
<rect x="1275" y="90" width="1" height="46" fill="#F23645"/>
<rect x="1273" y="93" width="5" height="41" fill="#F23645"/>
<rect x="1283" y="130" width="1" height="20" fill="#F23645"/>
<rect x="1281" y="133" width="5" height="7" fill="#F23645"/>
<rect x="1290" y="126" width="1" height="16" fill="#089981"/>
<rect x="1288" y="126" width="5" height="14" fill="#089981"/>
<rect x="1298" y="121" width="1" height="29" fill="#F23645"/>
<rect x="1296" y="127" width="5" height="17" fill="#F23645"/>
<rect x="1305" y="124" width="1" height="25" fill="#089981"/>
<rect x="1303" y="128" width="5" height="15" fill="#089981"/>
<rect x="1313" y="112" width="1" height="17" fill="#089981"/>
<rect x="1311" y="116" width="5" height="13" fill="#089981"/>
<rect x="1320" y="110" width="1" height="12" fill="#089981"/>
<rect x="1318" y="112" width="5" height="4" fill="#089981"/>
<rect x="1328" y="94" width="1" height="23" fill="#089981"/>
<rect x="1326" y="105" width="5" height="8" fill="#089981"/>
<rect x="1335" y="87" width="1" height="20" fill="#089981"/>
<rect x="1333" y="96" width="5" height="10" fill="#089981"/>
<rect x="1343" y="87" width="1" height="16" fill="#F23645"/>
<rect x="1341" y="96" width="5" height="1" fill="#F23645"/>
<rect x="1350" y="82" width="1" height="31" fill="#F23645"/>
<rect x="1348" y="97" width="5" height="14" fill="#F23645"/>
<rect x="1358" y="105" width="1" height="28" fill="#F23645"/>
<rect x="1356" y="111" width="5" height="21" fill="#F23645"/>
<rect x="1365" y="116" width="1" height="26" fill="#089981"/>
<rect x="1363" y="130" width="5" height="1" fill="#089981"/>
<rect x="1373" y="110" width="1" height="21" fill="#089981"/>
<rect x="1371" y="113" width="5" height="18" fill="#089981"/>
<rect x="1380" y="109" width="1" height="17" fill="#F23645"/>
<rect x="1378" y="113" width="5" height="13" fill="#F23645"/>
<rect x="1388" y="117" width="1" height="20" fill="#F23645"/>
<rect x="1386" y="124" width="5" height="12" fill="#F23645"/>
<rect x="1395" y="131" width="1" height="14" fill="#F23645"/>
<rect x="1393" y="135" width="5" height="3" fill="#F23645"/>
<rect x="1403" y="111" width="1" height="35" fill="#089981"/>
<rect x="1401" y="112" width="5" height="25" fill="#089981"/>
<rect x="1410" y="104" width="1" height="14" fill="#F23645"/>
<rect x="1408" y="112" width="5" height="3" fill="#F23645"/>
<rect x="1418" y="98" width="1" height="18" fill="#089981"/>
<rect x="1416" y="107" width="5" height="8" fill="#089981"/>
<rect x="1425" y="95" width="1" height="24" fill="#089981"/>
<rect x="1423" y="96" width="5" height="11" fill="#089981"/>
<rect x="1433" y="75" width="1" height="23" fill="#089981"/>
<rect x="1431" y="83" width="5" height="14" fill="#089981"/>
<rect x="1440" y="61" width="1" height="24" fill="#089981"/>
<rect x="1438" y="62" width="5" height="22" fill="#089981"/>
<rect x="1448" y="59" width="1" height="22" fill="#F23645"/>
<rect x="1446" y="62" width="5" height="15" fill="#F23645"/>
<rect x="1455" y="60" width="1" height="16" fill="#089981"/>
<rect x="1453" y="75" width="5" height="1" fill="#089981"/>
<rect x="1463" y="68" width="1" height="14" fill="#F23645"/>
<rect x="1461" y="75" width="5" height="1" fill="#F23645"/>
<rect x="1470" y="73" width="1" height="81" fill="#F23645"/>
<rect x="1468" y="76" width="5" height="47" fill="#F23645"/>
<rect x="1478" y="112" width="1" height="26" fill="#089981"/>
<rect x="1476" y="120" width="5" height="4" fill="#089981"/>
<rect x="1485" y="114" width="1" height="34" fill="#F23645"/>
<rect x="1483" y="120" width="5" height="19" fill="#F23645"/>
<rect x="1493" y="134" width="1" height="34" fill="#F23645"/>
<rect x="1491" y="139" width="5" height="24" fill="#F23645"/>
<rect x="1500" y="159" width="1" height="20" fill="#F23645"/>
<rect x="1498" y="162" width="5" height="15" fill="#F23645"/>
</g></svg>
<rect x="14" y="328" width="1565" height="109" fill="#7E57C2" fill-opacity="0.1"/>
<line x1="14" y1="328.5" x2="1579" y2="328.5" stroke="#787B86" stroke-width="1" stroke-dasharray="5 6" stroke-dashoffset="1"/>
<line x1="14" y1="382.5" x2="1579" y2="382.5" stroke="#787B86" stroke-width="1" stroke-dasharray="5 6" stroke-dashoffset="1"/>
<line x1="14" y1="436.5" x2="1579" y2="436.5" stroke="#787B86" stroke-width="1" stroke-dasharray="5 6" stroke-dashoffset="1"/>
<svg x="14" y="304" width="1565" height="145" viewBox="14 304 1565 145" overflow="hidden">
<polyline points="8.0,413.6 15.5,408.4 23.0,403.2 30.5,410.3 38.0,394.5 45.5,394.5 53.0,402.2 60.5,390.6 68.0,387.2 75.5,361.1 83.0,365.0 90.5,371.7 98.0,364.6 105.5,352.1 113.0,346.3 120.5,337.0 128.0,355.7 135.5,348.6 143.0,338.0 150.5,333.1 158.0,345.7 165.5,345.7 173.0,338.9 180.5,351.9 188.0,349.0 195.5,347.0 203.0,356.9 210.5,350.5 218.0,366.3 225.5,357.3 233.0,359.8 240.5,379.1 248.0,375.0 255.5,366.9 263.0,372.7 270.5,382.9 278.0,412.2 285.5,410.3 293.0,420.3 300.5,404.5 308.0,386.2 315.5,379.8 323.0,361.7 330.5,358.8 338.0,360.7 345.5,376.0 353.0,382.3 360.5,391.0 368.0,394.3 375.5,379.8 383.0,373.7 390.5,392.4 398.0,392.0 405.5,410.7 413.0,399.1 420.5,384.3 428.0,387.2 435.5,399.1 443.0,388.1 450.5,370.2 458.0,362.7 465.5,382.7 473.0,363.4 480.5,367.9 488.0,355.7 495.5,360.5 503.0,361.7 510.5,369.2 518.0,362.7 525.5,355.9 533.0,346.1 540.5,349.2 548.0,350.5 555.5,352.1 563.0,343.4 570.5,342.8 578.0,334.5 585.5,349.9 593.0,359.2 600.5,355.3 608.0,354.4 615.5,354.0 623.0,374.2 630.5,344.7 638.0,339.9 645.5,338.4 653.0,337.4 660.5,348.0 668.0,377.1 675.5,392.0 683.0,370.4 690.5,397.2 698.0,410.7 705.5,400.7 713.0,400.1 720.5,403.6 728.0,422.3 735.5,424.2 743.0,417.4 750.5,423.4 758.0,423.4 765.5,408.8 773.0,411.3 780.5,373.7 788.0,391.0 795.5,385.2 803.0,385.2 810.5,363.4 818.0,372.7 825.5,377.5 833.0,376.0 840.5,356.3 848.0,343.2 855.5,335.7 863.0,337.0 870.5,324.5 878.0,338.5 885.5,337.0 893.0,328.7 900.5,338.0 908.0,337.0 915.5,331.2 923.0,325.0 930.5,339.9 938.0,345.3 945.5,358.2 953.0,351.1 960.5,318.7 968.0,318.7 975.5,345.7 983.0,357.3 990.5,368.4 998.0,370.2 1005.5,360.5 1013.0,351.5 1020.5,344.3 1028.0,357.8 1035.5,353.4 1043.0,346.7 1050.5,338.0 1058.0,338.4 1065.5,349.5 1073.0,352.8 1080.5,375.6 1088.0,382.0 1095.5,395.5 1103.0,408.4 1110.5,414.6 1118.0,403.6 1125.5,394.9 1133.0,393.9 1140.5,382.9 1148.0,370.8 1155.5,393.9 1163.0,383.7 1170.5,395.8 1178.0,372.7 1185.5,370.4 1193.0,353.8 1200.5,357.6 1208.0,354.4 1215.5,353.4 1223.0,349.5 1230.5,381.4 1238.0,389.1 1245.5,389.5 1253.0,379.1 1260.5,368.4 1268.0,377.5 1275.5,407.8 1283.0,411.3 1290.5,399.7 1298.0,410.7 1305.5,396.8 1313.0,387.5 1320.5,383.9 1328.0,377.9 1335.5,370.8 1343.0,371.7 1350.5,384.3 1358.0,401.0 1365.5,399.3 1373.0,383.7 1380.5,392.9 1388.0,401.6 1395.5,403.0 1403.0,378.9 1410.5,380.8 1418.0,374.2 1425.5,365.0 1433.0,355.7 1440.5,341.2 1448.0,356.3 1455.5,355.7 1463.0,356.3 1470.5,398.2 1478.0,395.5 1485.5,408.4 1493.0,421.3 1500.5,429.0" fill="none" stroke="#7E57C2" stroke-width="1.3" stroke-linejoin="round" stroke-linecap="round"/>
</svg>
<g shape-rendering="crispEdges">
<rect x="14" y="543" width="4" height="11" fill="#FCCBCD"/>
<rect x="19" y="543" width="7" height="10" fill="#FCCBCD"/>
<rect x="27" y="543" width="6" height="9" fill="#FCCBCD"/>
<rect x="34" y="543" width="7" height="6" fill="#FCCBCD"/>
<rect x="42" y="543" width="6" height="3" fill="#FCCBCD"/>
<rect x="49" y="543" width="7" height="2" fill="#FCCBCD"/>
<rect x="57" y="542" width="6" height="2" fill="#22AB94"/>
<rect x="64" y="539" width="7" height="5" fill="#22AB94"/>
<rect x="72" y="533" width="6" height="11" fill="#22AB94"/>
<rect x="79" y="530" width="7" height="14" fill="#22AB94"/>
<rect x="87" y="529" width="6" height="15" fill="#22AB94"/>
<rect x="94" y="528" width="7" height="16" fill="#22AB94"/>
<rect x="102" y="525" width="6" height="19" fill="#22AB94"/>
<rect x="109" y="523" width="7" height="21" fill="#22AB94"/>
<rect x="117" y="520" width="6" height="24" fill="#22AB94"/>
<rect x="124" y="522" width="7" height="22" fill="#ACE5DC"/>
<rect x="132" y="523" width="6" height="21" fill="#ACE5DC"/>
<rect x="139" y="522" width="7" height="22" fill="#22AB94"/>
<rect x="147" y="521" width="6" height="23" fill="#22AB94"/>
<rect x="154" y="523" width="7" height="21" fill="#ACE5DC"/>
<rect x="162" y="526" width="6" height="18" fill="#ACE5DC"/>
<rect x="169" y="527" width="7" height="17" fill="#ACE5DC"/>
<rect x="177" y="531" width="6" height="13" fill="#ACE5DC"/>
<rect x="184" y="533" width="7" height="11" fill="#ACE5DC"/>
<rect x="192" y="535" width="6" height="9" fill="#ACE5DC"/>
<rect x="199" y="539" width="7" height="5" fill="#ACE5DC"/>
<rect x="207" y="540" width="6" height="4" fill="#ACE5DC"/>
<rect x="214" y="543" width="7" height="2" fill="#FF5252"/>
<rect x="222" y="543" width="6" height="2" fill="#FF5252"/>
<rect x="229" y="543" width="7" height="3" fill="#FF5252"/>
<rect x="237" y="543" width="6" height="7" fill="#FF5252"/>
<rect x="244" y="543" width="7" height="9" fill="#FF5252"/>
<rect x="252" y="543" width="6" height="8" fill="#FCCBCD"/>
<rect x="259" y="543" width="7" height="9" fill="#FF5252"/>
<rect x="267" y="543" width="6" height="10" fill="#FF5252"/>
<rect x="274" y="543" width="7" height="17" fill="#FF5252"/>
<rect x="282" y="543" width="6" height="18" fill="#FF5252"/>
<rect x="289" y="543" width="7" height="23" fill="#FF5252"/>
<rect x="297" y="543" width="6" height="22" fill="#FCCBCD"/>
<rect x="304" y="543" width="7" height="17" fill="#FCCBCD"/>
<rect x="312" y="543" width="6" height="12" fill="#FCCBCD"/>
<rect x="319" y="543" width="7" height="5" fill="#FCCBCD"/>
<rect x="327" y="542" width="6" height="2" fill="#22AB94"/>
<rect x="334" y="539" width="7" height="5" fill="#22AB94"/>
<rect x="342" y="540" width="6" height="4" fill="#ACE5DC"/>
<rect x="349" y="541" width="7" height="3" fill="#ACE5DC"/>
<rect x="357" y="543" width="6" height="2" fill="#FF5252"/>
<rect x="364" y="543" width="7" height="4" fill="#FF5252"/>
<rect x="372" y="543" width="6" height="3" fill="#FCCBCD"/>
<rect x="379" y="543" width="7" height="2" fill="#FCCBCD"/>
<rect x="387" y="543" width="6" height="4" fill="#FF5252"/>
<rect x="394" y="543" width="7" height="5" fill="#FF5252"/>
<rect x="402" y="543" width="6" height="9" fill="#FF5252"/>
<rect x="409" y="543" width="7" height="9" fill="#FF5252"/>
<rect x="417" y="543" width="6" height="7" fill="#FCCBCD"/>
<rect x="424" y="543" width="7" height="6" fill="#FCCBCD"/>
<rect x="432" y="543" width="6" height="6" fill="#FF5252"/>
<rect x="439" y="543" width="7" height="5" fill="#FCCBCD"/>
<rect x="447" y="542" width="6" height="2" fill="#22AB94"/>
<rect x="454" y="538" width="7" height="6" fill="#22AB94"/>
<rect x="462" y="539" width="6" height="5" fill="#ACE5DC"/>
<rect x="469" y="536" width="7" height="8" fill="#22AB94"/>
<rect x="477" y="535" width="6" height="9" fill="#22AB94"/>
<rect x="484" y="531" width="7" height="13" fill="#22AB94"/>
<rect x="492" y="531" width="6" height="13" fill="#22AB94"/>
<rect x="499" y="531" width="7" height="13" fill="#ACE5DC"/>
<rect x="507" y="534" width="6" height="10" fill="#ACE5DC"/>
<rect x="514" y="534" width="7" height="10" fill="#ACE5DC"/>
<rect x="522" y="534" width="6" height="10" fill="#22AB94"/>
<rect x="529" y="532" width="7" height="12" fill="#22AB94"/>
<rect x="537" y="532" width="6" height="12" fill="#22AB94"/>
<rect x="544" y="533" width="7" height="11" fill="#ACE5DC"/>
<rect x="552" y="534" width="6" height="10" fill="#ACE5DC"/>
<rect x="559" y="534" width="7" height="10" fill="#22AB94"/>
<rect x="567" y="534" width="6" height="10" fill="#ACE5DC"/>
<rect x="574" y="534" width="7" height="10" fill="#22AB94"/>
<rect x="582" y="536" width="6" height="8" fill="#ACE5DC"/>
<rect x="589" y="539" width="7" height="5" fill="#ACE5DC"/>
<rect x="597" y="541" width="6" height="3" fill="#ACE5DC"/>
<rect x="604" y="542" width="7" height="2" fill="#ACE5DC"/>
<rect x="612" y="543" width="6" height="2" fill="#FF5252"/>
<rect x="619" y="543" width="7" height="4" fill="#FF5252"/>
<rect x="627" y="543" width="6" height="2" fill="#FCCBCD"/>
<rect x="634" y="541" width="7" height="3" fill="#22AB94"/>
<rect x="642" y="539" width="6" height="5" fill="#22AB94"/>
<rect x="649" y="539" width="7" height="5" fill="#22AB94"/>
<rect x="657" y="540" width="6" height="4" fill="#ACE5DC"/>
<rect x="664" y="543" width="7" height="3" fill="#FF5252"/>
<rect x="672" y="543" width="6" height="9" fill="#FF5252"/>
<rect x="679" y="543" width="7" height="8" fill="#FCCBCD"/>
<rect x="687" y="543" width="6" height="13" fill="#FF5252"/>
<rect x="694" y="543" width="7" height="19" fill="#FF5252"/>
<rect x="702" y="543" width="6" height="20" fill="#FF5252"/>
<rect x="709" y="543" width="7" height="20" fill="#FCCBCD"/>
<rect x="717" y="543" width="6" height="20" fill="#FCCBCD"/>
<rect x="724" y="543" width="7" height="24" fill="#FF5252"/>
<rect x="732" y="543" width="6" height="25" fill="#FF5252"/>
<rect x="739" y="543" width="7" height="24" fill="#FCCBCD"/>
<rect x="747" y="543" width="6" height="24" fill="#FCCBCD"/>
<rect x="754" y="543" width="7" height="21" fill="#FCCBCD"/>
<rect x="762" y="543" width="6" height="18" fill="#FCCBCD"/>
<rect x="769" y="543" width="7" height="13" fill="#FCCBCD"/>
<rect x="777" y="543" width="6" height="5" fill="#FCCBCD"/>
<rect x="784" y="543" width="7" height="2" fill="#FCCBCD"/>
<rect x="792" y="541" width="6" height="3" fill="#22AB94"/>
<rect x="799" y="539" width="7" height="5" fill="#22AB94"/>
<rect x="807" y="533" width="6" height="11" fill="#22AB94"/>
<rect x="814" y="531" width="7" height="13" fill="#22AB94"/>
<rect x="822" y="532" width="6" height="12" fill="#ACE5DC"/>
<rect x="829" y="532" width="7" height="12" fill="#ACE5DC"/>
<rect x="837" y="528" width="6" height="16" fill="#22AB94"/>
<rect x="844" y="523" width="7" height="21" fill="#22AB94"/>
<rect x="852" y="518" width="6" height="26" fill="#22AB94"/>
<rect x="859" y="517" width="7" height="27" fill="#22AB94"/>
<rect x="867" y="513" width="6" height="31" fill="#22AB94"/>
<rect x="874" y="515" width="7" height="29" fill="#ACE5DC"/>
<rect x="882" y="517" width="6" height="27" fill="#ACE5DC"/>
<rect x="889" y="517" width="7" height="27" fill="#ACE5DC"/>
<rect x="897" y="521" width="6" height="23" fill="#ACE5DC"/>
<rect x="904" y="524" width="7" height="20" fill="#ACE5DC"/>
<rect x="912" y="525" width="6" height="19" fill="#ACE5DC"/>
<rect x="919" y="526" width="7" height="18" fill="#ACE5DC"/>
<rect x="927" y="530" width="6" height="14" fill="#ACE5DC"/>
<rect x="934" y="534" width="7" height="10" fill="#ACE5DC"/>
<rect x="942" y="540" width="6" height="4" fill="#ACE5DC"/>
<rect x="949" y="542" width="7" height="2" fill="#ACE5DC"/>
<rect x="957" y="534" width="6" height="10" fill="#22AB94"/>
<rect x="964" y="529" width="7" height="15" fill="#22AB94"/>
<rect x="972" y="533" width="6" height="11" fill="#ACE5DC"/>
<rect x="979" y="538" width="7" height="6" fill="#ACE5DC"/>
<rect x="987" y="543" width="6" height="3" fill="#FF5252"/>
<rect x="994" y="543" width="7" height="8" fill="#FF5252"/>
<rect x="1002" y="543" width="6" height="9" fill="#FF5252"/>
<rect x="1009" y="543" width="7" height="7" fill="#FCCBCD"/>
<rect x="1017" y="543" width="6" height="4" fill="#FCCBCD"/>
<rect x="1024" y="543" width="7" height="5" fill="#FF5252"/>
<rect x="1032" y="543" width="6" height="5" fill="#FCCBCD"/>
<rect x="1039" y="543" width="7" height="3" fill="#FCCBCD"/>
<rect x="1047" y="541" width="6" height="3" fill="#22AB94"/>
<rect x="1054" y="539" width="7" height="5" fill="#22AB94"/>
<rect x="1062" y="541" width="6" height="3" fill="#ACE5DC"/>
<rect x="1069" y="543" width="7" height="1" fill="#FF5252"/>
<rect x="1077" y="543" width="6" height="7" fill="#FF5252"/>
<rect x="1084" y="543" width="7" height="13" fill="#FF5252"/>
<rect x="1092" y="543" width="6" height="19" fill="#FF5252"/>
<rect x="1099" y="543" width="7" height="26" fill="#FF5252"/>
<rect x="1107" y="543" width="6" height="31" fill="#FF5252"/>
<rect x="1114" y="543" width="7" height="31" fill="#FF5252"/>
<rect x="1122" y="543" width="6" height="28" fill="#FCCBCD"/>
<rect x="1129" y="543" width="7" height="25" fill="#FCCBCD"/>
<rect x="1137" y="543" width="6" height="20" fill="#FCCBCD"/>
<rect x="1144" y="543" width="7" height="13" fill="#FCCBCD"/>
<rect x="1152" y="543" width="6" height="13" fill="#FF5252"/>
<rect x="1159" y="543" width="7" height="11" fill="#FCCBCD"/>
<rect x="1167" y="543" width="6" height="12" fill="#FF5252"/>
<rect x="1174" y="543" width="7" height="6" fill="#FCCBCD"/>
<rect x="1182" y="543" width="6" height="1" fill="#FCCBCD"/>
<rect x="1189" y="535" width="7" height="9" fill="#22AB94"/>
<rect x="1197" y="532" width="6" height="12" fill="#22AB94"/>
<rect x="1204" y="529" width="7" height="15" fill="#22AB94"/>
<rect x="1212" y="528" width="6" height="16" fill="#22AB94"/>
<rect x="1219" y="527" width="7" height="17" fill="#22AB94"/>
<rect x="1227" y="534" width="6" height="10" fill="#ACE5DC"/>
<rect x="1234" y="541" width="7" height="3" fill="#ACE5DC"/>
<rect x="1242" y="543" width="6" height="4" fill="#FF5252"/>
<rect x="1249" y="543" width="7" height="5" fill="#FF5252"/>
<rect x="1257" y="543" width="6" height="2" fill="#FCCBCD"/>
<rect x="1264" y="543" width="7" height="3" fill="#FF5252"/>
<rect x="1272" y="543" width="6" height="12" fill="#FF5252"/>
<rect x="1279" y="543" width="7" height="18" fill="#FF5252"/>
<rect x="1287" y="543" width="6" height="19" fill="#FF5252"/>
<rect x="1294" y="543" width="7" height="22" fill="#FF5252"/>
<rect x="1302" y="543" width="6" height="19" fill="#FCCBCD"/>
<rect x="1309" y="543" width="7" height="14" fill="#FCCBCD"/>
<rect x="1317" y="543" width="6" height="9" fill="#FCCBCD"/>
<rect x="1324" y="543" width="7" height="4" fill="#FCCBCD"/>
<rect x="1332" y="541" width="6" height="3" fill="#22AB94"/>
<rect x="1339" y="538" width="7" height="6" fill="#22AB94"/>
<rect x="1347" y="539" width="6" height="5" fill="#ACE5DC"/>
<rect x="1354" y="543" width="7" height="2" fill="#FF5252"/>
<rect x="1362" y="543" width="6" height="5" fill="#FF5252"/>
<rect x="1369" y="543" width="7" height="3" fill="#FCCBCD"/>
<rect x="1377" y="543" width="6" height="4" fill="#FF5252"/>
<rect x="1384" y="543" width="7" height="6" fill="#FF5252"/>
<rect x="1392" y="543" width="6" height="8" fill="#FF5252"/>
<rect x="1399" y="543" width="7" height="3" fill="#FCCBCD"/>
<rect x="1407" y="542" width="6" height="2" fill="#22AB94"/>
<rect x="1414" y="539" width="7" height="5" fill="#22AB94"/>
<rect x="1422" y="534" width="6" height="10" fill="#22AB94"/>
<rect x="1429" y="529" width="7" height="15" fill="#22AB94"/>
<rect x="1437" y="522" width="6" height="22" fill="#22AB94"/>
<rect x="1444" y="522" width="7" height="22" fill="#22AB94"/>
<rect x="1452" y="523" width="6" height="21" fill="#ACE5DC"/>
<rect x="1459" y="524" width="7" height="20" fill="#ACE5DC"/>
<rect x="1467" y="537" width="6" height="7" fill="#ACE5DC"/>
<rect x="1474" y="543" width="7" height="2" fill="#FF5252"/>
<rect x="1482" y="543" width="6" height="11" fill="#FF5252"/>
<rect x="1489" y="543" width="7" height="21" fill="#FF5252"/>
<rect x="1497" y="543" width="6" height="29" fill="#FF5252"/>
</g>
<svg x="14" y="450" width="1565" height="145" viewBox="14 450 1565 145" overflow="hidden">
<polyline points="14.0,567.9 22.6,570.9 30.6,573.3 37.9,574.4 45.4,574.8 52.9,575.2 60.5,574.8 68.0,574.1 75.5,571.6 83.1,568.3 90.6,565.1 97.9,560.8 105.4,555.4 113.0,550.0 120.5,544.7 128.0,538.6 135.6,532.8 143.1,527.5 150.6,522.1 157.9,517.1 165.5,512.4 173.0,509.2 180.5,506.4 188.1,504.4 195.6,503.1 202.9,502.7 210.4,502.7 218.0,503.1 225.5,503.4 233.0,504.2 240.5,507.0 248.1,509.2 255.5,510.6 262.9,512.5 270.4,514.5 278.0,519.9 285.5,525.7 293.0,531.3 300.6,536.1 308.1,538.9 315.4,540.4 322.9,540.8 330.5,540.4 338.0,538.9 345.5,537.8 353.1,538.2 360.6,538.9 367.9,539.3 375.4,539.9 383.0,540.4 390.5,541.0 398.0,542.1 405.6,544.7 413.1,546.4 420.4,547.5 427.9,548.5 435.5,550.0 443.0,550.7 450.5,550.0 458.0,549.0 465.6,547.9 472.9,545.7 480.4,543.6 488.0,540.4 495.5,538.2 503.0,535.0 510.5,532.4 518.1,530.0 525.6,527.0 533.1,524.2 540.4,521.6 548.0,519.3 555.5,517.1 563.0,515.0 570.6,512.8 578.1,510.9 585.4,509.6 592.9,508.5 600.5,508.1 608.0,508.1 615.5,508.5 623.0,509.6 630.6,509.8 637.9,509.2 645.4,508.1 653.0,507.0 660.5,506.4 668.0,507.0 675.5,508.7 683.1,510.7 690.4,514.1 697.9,519.3 705.4,525.3 713.0,530.7 720.5,536.1 728.0,539.8 735.6,545.3 743.1,551.1 750.4,556.1 757.9,560.8 765.5,565.1 773.0,568.3 780.5,569.4 788.0,569.8 795.6,569.4 803.1,567.9 810.4,565.1 818.0,562.3 825.5,559.7 833.0,556.9 840.5,553.3 848.1,547.9 855.4,541.4 862.9,535.0 870.5,527.5 878.0,519.9 885.5,512.8 893.0,507.0 900.6,501.6 907.9,496.7 915.4,492.0 922.9,488.3 930.5,485.5 938.0,483.8 945.5,483.3 953.1,482.9 960.5,480.9 968.0,477.4 975.4,475.2 983.0,474.3 990.5,474.7 998.0,476.9 1005.5,479.0 1013.1,480.6 1020.6,481.6 1027.9,482.3 1035.5,482.9 1043.0,483.3 1050.5,482.9 1058.0,481.8 1065.6,481.2 1073.1,481.6 1080.4,483.3 1087.9,487.0 1095.5,492.6 1103.0,499.5 1110.5,507.0 1118.1,513.5 1125.6,519.9 1132.9,525.3 1140.4,529.6 1148.0,532.8 1155.5,536.1 1163.0,538.6 1170.6,541.0 1177.9,542.1 1185.4,542.1 1192.9,540.4 1200.5,536.4 1208.0,532.8 1215.5,529.6 1223.0,525.7 1230.6,524.2 1238.1,524.2 1245.4,524.9 1253.0,525.7 1260.5,525.7 1268.0,526.4 1275.5,530.0 1283.1,535.6 1290.6,540.8 1297.9,546.2 1305.4,550.5 1313.0,552.8 1320.5,553.9 1328.0,554.3 1335.6,553.3 1343.1,552.2 1350.4,551.1 1357.9,551.5 1365.5,552.6 1373.0,553.3 1380.5,553.9 1388.1,555.4 1395.4,556.9 1402.9,557.6 1410.4,557.6 1418.0,556.5 1425.5,553.6 1433.0,549.3 1440.4,542.9 1448.0,537.1 1455.5,533.4 1463.0,530.6 1470.5,529.6 1478.1,530.0 1485.6,533.4 1493.1,537.7 1500.4,543.5" fill="none" stroke="#FF6D00" stroke-width="1.3" stroke-linejoin="round" stroke-linecap="round"/>
<polyline points="14.0,579.7 22.6,579.7 30.6,581.2 37.9,578.7 45.4,576.9 52.9,575.9 60.5,573.7 68.0,570.5 75.5,561.4 83.1,555.4 90.6,551.1 97.9,546.4 105.4,539.3 113.0,532.8 120.5,524.9 128.0,519.9 135.6,515.6 143.1,508.1 150.6,502.3 157.9,499.9 165.5,498.4 173.0,496.3 180.5,496.9 188.1,496.9 195.6,497.3 202.9,499.5 210.4,500.6 218.0,503.8 225.5,504.9 233.0,507.0 240.5,512.4 248.1,515.6 255.5,516.9 262.9,519.6 270.4,523.1 278.0,532.8 285.5,540.8 293.0,549.4 300.6,553.9 308.1,553.3 315.4,550.7 322.9,544.0 330.5,539.3 338.0,535.6 345.5,535.6 353.1,537.1 360.6,539.9 367.9,542.9 375.4,542.9 383.0,541.9 390.5,543.6 398.0,545.7 405.6,551.1 413.1,554.3 420.4,553.3 427.9,552.8 435.5,555.0 443.0,554.3 450.5,550.0 458.0,544.0 465.6,544.0 472.9,539.3 480.4,536.1 488.0,530.7 495.5,526.4 503.0,524.2 510.5,524.2 518.1,522.7 525.6,519.9 533.1,515.0 540.4,512.0 548.0,510.2 555.5,510.2 563.0,507.7 570.6,505.5 578.1,502.7 585.4,502.7 592.9,504.9 600.5,506.4 608.0,507.4 615.5,509.2 623.0,512.8 630.6,510.2 637.9,507.0 645.4,504.4 653.0,502.7 660.5,503.4 668.0,509.2 675.5,516.3 683.1,518.2 690.4,526.4 697.9,536.5 705.4,542.5 713.0,546.8 720.5,551.1 728.0,560.8 735.6,567.9 743.1,572.2 750.4,578.0 757.9,581.9 765.5,581.9 773.0,581.9 780.5,573.7 788.0,571.6 795.6,567.9 803.1,565.1 810.4,556.5 818.0,551.5 825.5,549.0 833.0,546.8 840.5,539.3 848.1,529.6 855.4,518.8 862.9,510.2 870.5,499.1 878.0,494.1 885.5,489.8 893.0,483.3 900.6,481.2 907.9,479.5 915.4,476.9 922.9,473.0 930.5,473.7 938.0,475.8 945.5,480.8 953.1,483.3 960.5,471.5 968.0,464.4 975.4,465.1 983.0,469.8 990.5,476.9 998.0,483.8 1005.5,487.2 1013.1,487.0 1020.6,484.4 1027.9,486.1 1035.5,486.6 1043.0,485.1 1050.5,481.2 1058.0,478.6 1065.6,479.5 1073.1,481.8 1080.4,489.8 1087.9,498.4 1095.5,509.2 1103.0,522.1 1110.5,535.0 1118.1,542.9 1125.6,546.8 1132.9,549.4 1140.4,548.5 1148.0,544.7 1155.5,547.9 1163.0,547.9 1170.6,551.1 1177.9,546.8 1185.4,542.5 1192.9,533.5 1200.5,527.0 1208.0,521.0 1215.5,515.6 1223.0,510.7 1230.6,516.3 1238.1,522.1 1245.4,527.9 1253.0,529.6 1260.5,527.9 1268.0,529.2 1275.5,539.3 1283.1,550.0 1290.6,555.4 1297.9,564.0 1305.4,566.2 1313.0,564.5 1320.5,561.9 1328.0,557.6 1335.6,551.1 1343.1,547.5 1350.4,547.9 1357.9,553.3 1365.5,556.5 1373.0,555.0 1380.5,556.5 1388.1,560.2 1395.4,564.0 1402.9,560.2 1410.4,556.5 1418.0,552.2 1425.5,545.9 1433.0,537.7 1440.4,527.4 1448.0,519.2 1455.5,515.2 1463.0,512.4 1470.5,523.1 1478.1,530.6 1485.6,544.6 1493.1,557.5 1500.4,572.2" fill="none" stroke="#2196F3" stroke-width="1.3" stroke-linejoin="round" stroke-linecap="round"/>
</svg>
<text x="23" y="38" fill="#131722" font-size="15.5" textLength="122.5" lengthAdjust="spacingAndGlyphs">EUR/CAD Spot, 1D</text>
<text x="154.5" y="38" fill="#131722" font-size="15.5">O</text>
<text x="165.3" y="38" fill="#F23645" font-size="15.5" textLength="50.3" lengthAdjust="spacingAndGlyphs">1.48371</text>
<text x="226.2" y="38" fill="#131722" font-size="15.5">H</text>
<text x="236.9" y="38" fill="#F23645" font-size="15.5" textLength="50.3" lengthAdjust="spacingAndGlyphs">1.48451</text>
<text x="298.6" y="38" fill="#131722" font-size="15.5">L</text>
<text x="306.9" y="38" fill="#F23645" font-size="15.5" textLength="50.3" lengthAdjust="spacingAndGlyphs">1.47805</text>
<text x="367.6" y="38" fill="#131722" font-size="15.5">C</text>
<text x="377.7" y="38" fill="#F23645" font-size="15.5" textLength="50.3" lengthAdjust="spacingAndGlyphs">1.47894</text>
<text x="438.6" y="38" fill="#F23645" font-size="15.5" textLength="121" lengthAdjust="spacingAndGlyphs">−0.00477 (−0.32%)</text>
<text x="23" y="58.5" fill="#131722" font-size="15.5" textLength="298.6" lengthAdjust="spacingAndGlyphs">Moving Average Triple (20, 100, 200, Simple)</text>
<text x="332.9" y="58.5" fill="#FF6D00" font-size="15.5" textLength="51" lengthAdjust="spacingAndGlyphs">1.49910</text>
<text x="394.7" y="58.5" fill="#2196F3" font-size="15.5" textLength="51" lengthAdjust="spacingAndGlyphs">1.49772</text>
<text x="456.5" y="58.5" fill="#26C6DA" font-size="15.5" textLength="50.7" lengthAdjust="spacingAndGlyphs">1.48402</text>
<text x="23.6" y="328.6" fill="#131722" font-size="15.5" textLength="50.2" lengthAdjust="spacingAndGlyphs">RSI (14)</text>
<text x="84.3" y="328.6" fill="#7E57C2" font-size="15.5" textLength="35.8" lengthAdjust="spacingAndGlyphs">32.58</text>
<text x="23.1" y="475.3" fill="#131722" font-size="15.5" textLength="155.8" lengthAdjust="spacingAndGlyphs">MACD (12, 26, close, 9)</text>
<text x="189.6" y="475.3" fill="#FF5252" font-size="15.5" textLength="59.8" lengthAdjust="spacingAndGlyphs">−0.00275</text>
<text x="258.9" y="475.3" fill="#2196F3" font-size="15.5" textLength="59.8" lengthAdjust="spacingAndGlyphs">−0.00287</text>
<text x="328.2" y="475.3" fill="#FF6D00" font-size="15.5" textLength="59.8" lengthAdjust="spacingAndGlyphs">−0.00012</text>
<text x="1590" y="57" fill="#131722" font-size="16" textLength="51.5" lengthAdjust="spacingAndGlyphs">1.52000</text>
<text x="1590" y="240" fill="#131722" font-size="16" textLength="51.5" lengthAdjust="spacingAndGlyphs">1.46000</text>
<text x="1590" y="302" fill="#131722" font-size="16" textLength="51.5" lengthAdjust="spacingAndGlyphs">1.44000</text>
<path d="M1579 88 H1647.5 Q1649.5 88 1649.5 90 V107 Q1649.5 109 1647.5 109 H1579 Z" fill="#FF6D00"/>
<text x="1590.4" y="103.7" fill="#fff" font-size="16" textLength="51.5" lengthAdjust="spacingAndGlyphs">1.49910</text>
<path d="M1579 109 H1647.5 Q1649.5 109 1649.5 111 V128 Q1649.5 130 1647.5 130 H1579 Z" fill="#2196F3"/>
<text x="1590.4" y="124.7" fill="#fff" font-size="16" textLength="51.5" lengthAdjust="spacingAndGlyphs">1.49772</text>
<path d="M1579 145 H1647.5 Q1649.5 145 1649.5 147 V164 Q1649.5 166 1647.5 166 H1579 Z" fill="#26C6DA"/>
<text x="1590.4" y="160.7" fill="#131722" font-size="16" textLength="51.5" lengthAdjust="spacingAndGlyphs">1.48402</text>
<path d="M1579 166 H1647.5 Q1649.5 166 1649.5 168 V185 Q1649.5 187 1647.5 187 H1579 Z" fill="#F23645"/>
<text x="1590.4" y="181.7" fill="#fff" font-size="16" textLength="51.5" lengthAdjust="spacingAndGlyphs">1.47894</text>
<text x="1589.7" y="361" fill="#131722" font-size="16" textLength="35.6" lengthAdjust="spacingAndGlyphs">60.00</text>
<text x="1589.7" y="415" fill="#131722" font-size="16" textLength="35.6" lengthAdjust="spacingAndGlyphs">40.00</text>
<path d="M1579 419.5 H1630.4 Q1632.4 419.5 1632.4 421.5 V438 Q1632.4 440 1630.4 440 H1579 Z" fill="#7E57C2"/>
<text x="1589.7" y="434.95" fill="#fff" font-size="16" textLength="35.6" lengthAdjust="spacingAndGlyphs">32.58</text>
<text x="1589" y="498" fill="#131722" font-size="16" textLength="52" lengthAdjust="spacingAndGlyphs">0.00500</text>
<svg x="1579" y="450" width="81" height="145" viewBox="1579 450 81 145" overflow="hidden">
<path d="M1579 534 H1654.6 Q1656.6 534 1656.6 536 V553 Q1656.6 555 1654.6 555 H1579 Z" fill="#FF6D00"/>
<text x="1589" y="549.7" fill="#fff" font-size="16" textLength="59" lengthAdjust="spacingAndGlyphs">−0.00012</text>
<path d="M1579 561 H1654.6 Q1656.6 561 1656.6 563 V580 Q1656.6 582 1654.6 582 H1579 Z" fill="#FF5252"/>
<text x="1589" y="576.7" fill="#fff" font-size="16" textLength="59" lengthAdjust="spacingAndGlyphs">−0.00275</text>
<path d="M1579 582 H1654.6 Q1656.6 582 1656.6 584 V601 Q1656.6 603 1654.6 603 H1579 Z" fill="#2196F3"/>
<text x="1589" y="597.7" fill="#fff" font-size="16" textLength="59" lengthAdjust="spacingAndGlyphs">−0.00287</text>
</svg>
<text x="135.5" y="618" fill="#131722" font-size="15.5" textLength="25" lengthAdjust="spacingAndGlyphs" font-weight="bold" text-anchor="middle">Mar</text>
<text x="293.5" y="618" fill="#131722" font-size="15.5" textLength="24" lengthAdjust="spacingAndGlyphs" font-weight="bold" text-anchor="middle">Apr</text>
<text x="458.5" y="618" fill="#131722" font-size="15.5" textLength="27" lengthAdjust="spacingAndGlyphs" font-weight="bold" text-anchor="middle">May</text>
<text x="630.5" y="618" fill="#131722" font-size="15.5" textLength="24" lengthAdjust="spacingAndGlyphs" font-weight="bold" text-anchor="middle">Jun</text>
<text x="780.5" y="618" fill="#131722" font-size="15.5" textLength="21" lengthAdjust="spacingAndGlyphs" font-weight="bold" text-anchor="middle">Jul</text>
<text x="953.5" y="618" fill="#131722" font-size="15.5" textLength="26" lengthAdjust="spacingAndGlyphs" font-weight="bold" text-anchor="middle">Aug</text>
<text x="1118.5" y="618" fill="#131722" font-size="15.5" textLength="24" lengthAdjust="spacingAndGlyphs" font-weight="bold" text-anchor="middle">Sep</text>
<text x="1275.5" y="618" fill="#131722" font-size="15.5" textLength="24" lengthAdjust="spacingAndGlyphs" font-weight="bold" text-anchor="middle">Oct</text>
<text x="1448.5" y="618" fill="#131722" font-size="15.5" textLength="26" lengthAdjust="spacingAndGlyphs" font-weight="bold" text-anchor="middle">Nov</text>
<path d="M13 646 H22.7 V657.8 H18 V650 H13 Z" fill="#131722"/>
<circle cx="26.9" cy="648.3" r="2.6" fill="#131722"/>
<path d="M31.6 646 H37.2 L32.9 657.8 H27.1 Z" fill="#131722"/>
<text x="41.8" y="657.8" fill="#131722" font-size="15.5" textLength="88" lengthAdjust="spacingAndGlyphs">TradingView</text>
</svg></body></html>
